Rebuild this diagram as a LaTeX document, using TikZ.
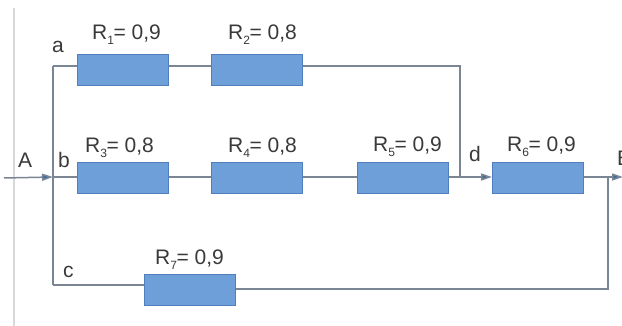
\documentclass[tikz,border=0pt]{standalone}
\usepackage{fontspec}
\setmainfont{Liberation Sans}
\usetikzlibrary{arrows.meta}
\definecolor{boxfill}{HTML}{6F9FD8}
\definecolor{boxline}{HTML}{4F7FBF}
\definecolor{wire}{HTML}{7A8694}
\definecolor{arr}{HTML}{3F6A9A}
\definecolor{txt}{HTML}{3A3A3A}
\newcommand{\rlab}[2]{R\raisebox{-5pt}{\fontsize{12}{12}\selectfont #1}\kern-0.5pt= #2}
\begin{document}
\begin{tikzpicture}[x=1pt,y=1pt,
  res/.style={draw=boxline,fill=boxfill,line width=1pt,minimum width=91pt,minimum height=31pt,inner sep=0pt},
  wireline/.style={draw=wire,line width=1.5pt},
  lab/.style={text=txt,font=\fontsize{21}{25}\selectfont,inner sep=0pt,anchor=base west},
  arrowline/.style={wireline,-{Triangle[length=11pt,width=7pt,fill=arr]}}]
\useasboundingbox (0,0) rectangle (622,-326);
\fill[white] (0,0) rectangle (622,-326);
% faint margin line
\coordinate (m1) at (14,-8);
\coordinate (m2) at (14,-326);
\draw[draw=black!15,line width=1.5pt] (m1) -- (m2);
% resistors
\node[res] (R1) at (123,-70) {};
\node[res] (R2) at (257,-70) {};
\node[res] (R3) at (123,-178) {};
\node[res] (R4) at (257,-178) {};
\node[res] (R5) at (403,-178) {};
\node[res] (R6) at (538,-178) {};
\node[res] (R7) at (190,-290) {};
% junction coordinates
\coordinate (in) at (4,-178);
\coordinate (a) at (53,-66);
\coordinate (b) at (53,-177);
\coordinate (c) at (53,-285);
\coordinate (atr) at (460,-66);
\coordinate (d) at (460,-177);
\coordinate (out) at (623,-177);
\coordinate (rt) at (608,-177);
\coordinate (rb) at (608,-289);
% wires
\draw[arrowline] (in) -- (b);
\draw[wireline] (a) -- (c);
\draw[wireline] (a) -- (a -| R1.west);
\draw[wireline] (a -| R1.east) -- (a -| R2.west);
\draw[wireline] (a -| R2.east) -- (atr) -- (d);
\draw[wireline] (b) -- (b -| R3.west);
\draw[wireline] (b -| R3.east) -- (b -| R4.west);
\draw[wireline] (b -| R4.east) -- (b -| R5.west);
\draw[wireline] (b -| R5.east) -- (d);
\draw[arrowline] (d) -- (b -| R6.west);
\draw[arrowline] (b -| R6.east) -- (out);
\draw[wireline] (rt) -- (rb) -- (rb -| R7.east);
\draw[wireline] (c) -- (c -| R7.west);
% labels
\node[lab] (l1) at (92,-40) {\rlab{1}{0,9}};
\node[lab] (l2) at (228,-40) {\rlab{2}{0,8}};
\node[lab] (l3) at (85,-153) {\rlab{3}{0,8}};
\node[lab] (l4) at (228,-153) {\rlab{4}{0,8}};
\node[lab] (l5) at (373,-152) {\rlab{5}{0,9}};
\node[lab] (l6) at (507,-152) {\rlab{6}{0,9}};
\node[lab] (l7) at (155,-265) {\rlab{7}{0,9}};
\node[lab] (la) at (52,-53) {a};
\node[lab] (lb) at (58,-168) {b};
\node[lab] (lA) at (18,-168) {A};
\node[lab] (lc) at (63,-278) {c};
\node[lab] (ld) at (469,-162) {d};
\node[lab] (lB) at (617,-166) {B};
\end{tikzpicture}
\end{document}
